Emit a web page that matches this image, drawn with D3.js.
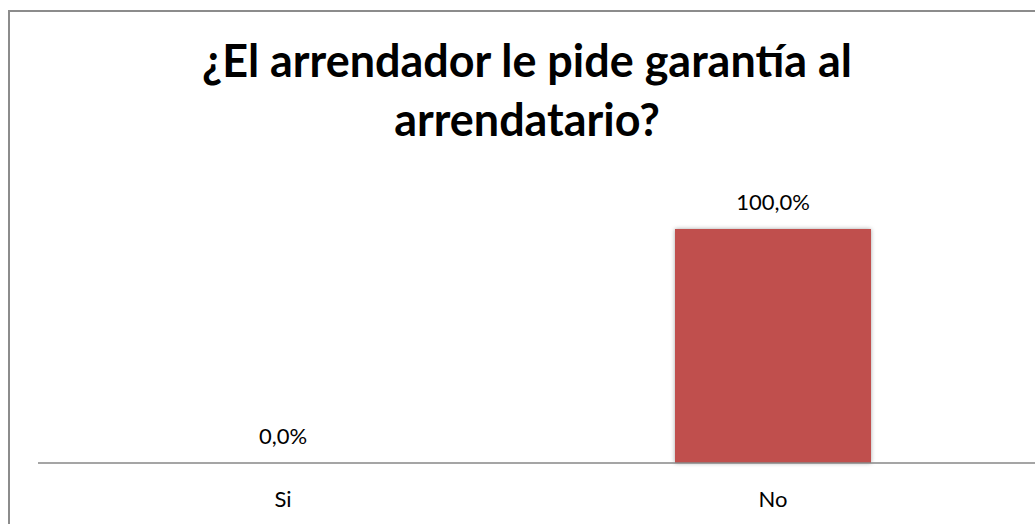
<!DOCTYPE html>
<html>
<head>
<meta charset="utf-8">
<title>Garantía</title>
<script src="https://cdn.jsdelivr.net/npm/d3@7"></script>
<style>
  body { margin: 0; background: #fff; }
  svg { display: block; font-family: Lato, "Open Sans", sans-serif; }
</style>
</head>
<body>
<svg id="chart" width="1035" height="524"></svg>
<script>
var categories = ["Si", "No"];
var values = [0, 100];
var valueLabels = ["0,0%", "100,0%"];
var titleLines = ["¿El arrendador le pide garantía al", "arrendatario?"];

var svg = d3.select("#chart");
var W = 1035, H = 524;

// soft shadow round the bar
var defs = svg.append("defs");
var f = defs.append("filter").attr("id", "shadow").attr("x", "-10%").attr("y", "-10%").attr("width", "120%").attr("height", "120%");
f.append("feDropShadow").attr("dx", 0).attr("dy", 0).attr("stdDeviation", 2).attr("flood-color", "#000").attr("flood-opacity", 0.35);

// outer border
svg.append("rect").attr("x", 9).attr("y", 11).attr("width", W + 10).attr("height", H + 10)
  .attr("fill", "none").attr("stroke", "#8c8c8c").attr("stroke-width", 2);

// title, sized so line one is about as wide as the original
var title = svg.append("text").attr("text-anchor", "middle").attr("font-weight", "bold")
  .attr("font-size", 40).attr("fill", "#000");
title.selectAll("tspan").data(titleLines).enter().append("tspan")
  .attr("x", 527).attr("y", function(d, i) { return i == 0 ? 77 : 136; })
  .text(function(d) { return d; });
var w1 = title.select("tspan").node().getComputedTextLength();
title.attr("font-size", 40 * 650 / w1);

var x = d3.scaleBand().domain(categories).range([38, 1018]).paddingInner(0).paddingOuter(0);
var y = d3.scaleLinear().domain([0, 100]).range([463, 229]);
var bw = x.bandwidth() * 0.4;

svg.selectAll("rect.bar").data(values).enter().append("rect")
  .attr("class", "bar")
  .attr("x", function(d, i) { return x(categories[i]) + (x.bandwidth() - bw) / 2; })
  .attr("y", function(d) { return y(d); })
  .attr("width", bw)
  .attr("height", function(d) { return y(0) - y(d); })
  .attr("fill", "#c0504d")
  .attr("filter", "url(#shadow)");

// value labels
svg.selectAll("text.val").data(values).enter().append("text")
  .attr("class", "val")
  .attr("x", function(d, i) { return x(categories[i]) + x.bandwidth() / 2; })
  .attr("y", function(d) { return y(d) - 19; })
  .attr("text-anchor", "middle").attr("font-size", 22).attr("fill", "#000")
  .text(function(d, i) { return valueLabels[i]; });

// category axis
var axis = svg.append("g").attr("transform", "translate(0,463)")
  .call(d3.axisBottom(x).tickSize(0).tickPadding(28));
axis.select(".domain").attr("stroke", "#878787").attr("stroke-width", 1.5).attr("d", "M38,0H1035");
axis.selectAll("text").attr("font-size", 22).attr("fill", "#000")
  .attr("font-family", "Lato, 'Open Sans', sans-serif")
  .attr("dy", null).attr("y", 44);
</script>
</body>
</html>
